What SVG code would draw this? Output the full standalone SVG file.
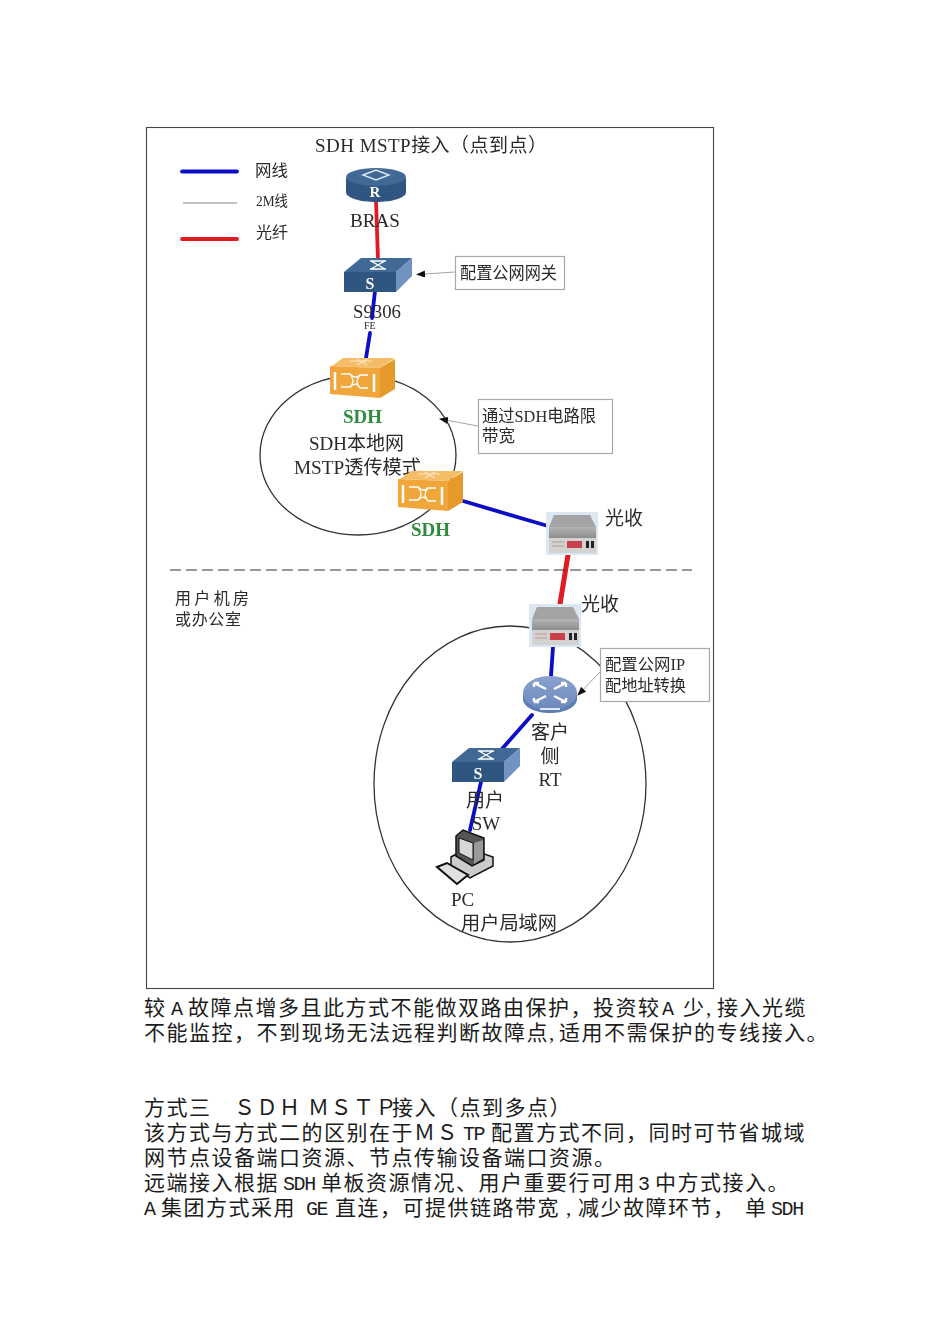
<svg xmlns="http://www.w3.org/2000/svg" width="950" height="1344" viewBox="0 0 950 1344">
<style>
text{font-family:"Liberation Serif","Noto Sans CJK SC",serif;fill:#2a2a2a}
.t{font-size:19px}
.b{font-size:21px;letter-spacing:1.5px;fill:#1c1c1c}
.m{font-family:"Liberation Mono",monospace;font-size:20px;letter-spacing:-1.400px}
.g{font-weight:bold;fill:#2e8b3a;font-size:19px}
.blue{stroke:#0f10c8;stroke-width:3.8;fill:none;stroke-linecap:round}
.red{stroke:#e01a22;stroke-width:3.8;fill:none;stroke-linecap:round}
.thin{stroke:#333;stroke-width:1.3;fill:none}
.fine{stroke:#666;stroke-width:.8;fill:none}
.box{fill:#fff;stroke:#a9a9a9;stroke-width:1.2}
.lead{stroke:#999;stroke-width:.9;fill:none}
.or{fill:#f0a63a}.orT{fill:#f5bd68}.orS{fill:#e59a2c}
.navy{fill:#2f5680}.navyT{fill:#3f6a95}.navyS{fill:#7093c2}
</style>
<defs>
<filter id="soft" x="-2%" y="-2%" width="104%" height="104%"><feGaussianBlur stdDeviation="0.45"/></filter>
<marker id="ah" markerWidth="9" markerHeight="7" refX="8" refY="3.5" orient="auto" markerUnits="userSpaceOnUse"><path d="M0 0L9 3.500L0 7z" fill="#111"/></marker>
<linearGradient id="rt" x1="0" y1="0" x2="0" y2="1"><stop offset="0" stop-color="#8ba2cf"/><stop offset="1" stop-color="#6c89bd"/></linearGradient>
<linearGradient id="bx" x1="0" y1="0" x2="0" y2="1"><stop offset="0" stop-color="#b5b5b5"/><stop offset="1" stop-color="#8d8d8d"/></linearGradient>
<g id="sdh">
<path class="orT" d="M2 8L13 0H65L50 10Z"/>
<path class="or" d="M0 8L50 10V40L0 36Z"/>
<path class="orS" d="M50 10L65 1V31L50 40Z"/>
<path d="M5 14V32M44 16V34" stroke="#fff" stroke-width="2.500" fill="none"/>
<path d="M11 16H20C24 20 27 20 30 17H38M11 29H20C24 25 27 25 30 30H38M20 16C24 22 24 24 20 29M30 17C26 22 26 25 30 30" stroke="#fff" stroke-width="1.300" fill="none"/>
<path d="M20 3H42M27 7L37 1M37 7L27 1" stroke="#fbe6c4" stroke-width="1.200"/>
</g>
<g id="mux">
<rect x="0" y="0" width="52" height="43" fill="#dbe7f2"/>
<path d="M3 15L8 3H44L50 15Z" fill="#a4a4a4"/>
<rect x="3" y="15" width="47" height="11" fill="url(#bx)"/>
<rect x="3" y="26" width="47" height="15" fill="#d2d2d2"/>
<rect x="21" y="29" width="15" height="7" fill="#c8404a"/>
<rect x="40" y="29" width="3" height="7" fill="#222"/><rect x="45" y="29" width="3" height="7" fill="#222"/>
<path d="M6 30H18M6 34H18" stroke="#b98" stroke-width="1"/>
</g>
<g id="sw">
<path class="navyT" d="M0 14L17 0H68L52 14Z"/>
<path class="navy" d="M0 14H52V34H0Z"/>
<path class="navyS" d="M52 14L68 0V18L52 34Z"/>
<path d="M26 3H42M26 11H42M27 3L41 11M41 3L27 11" stroke="#fff" stroke-width="1.400"/>
</g>
</defs>
<rect width="950" height="1344" fill="#fff"/>
<g filter="url(#soft)">
<rect x="146.500" y="127.500" width="567" height="861" fill="#fff" stroke="#444" stroke-width="1.100"/>
<g id="connectors">
<path class="blue" d="M182 171.500H237"/>
<path class="fine" d="M183 203H237"/>
<path class="red" d="M182 239H237"/>
<path class="red" d="M376 200L378 260"/>
<path class="blue" d="M375 291L372 318"/>
<path class="blue" d="M370 333L366 358"/>
<ellipse class="thin" cx="358" cy="455" rx="98" ry="80"/>
<ellipse class="thin" cx="510" cy="784" rx="136" ry="158"/>
<path class="blue" d="M463 501L548 526"/>
<path class="red" d="M568 555L560 604" style="stroke-width:5"/>
<path class="blue" d="M553 647L551 676"/>
<path class="blue" d="M532 715L501 750"/>
<path class="blue" d="M481 782L470 830"/>
<path d="M170 570H692" stroke="#333" stroke-width="1" stroke-dasharray="11 5" fill="none"/>
<path class="lead" d="M455 272L417 274.500" marker-end="url(#ah)"/>
<path class="lead" d="M478 426L440 419" marker-end="url(#ah)"/>
<path class="lead" d="M600 672L578 695" marker-end="url(#ah)"/>
</g>
<g id="bras">
<path class="navy" d="M346 178V192C346 198 360 202 376 202C392 202 406 198 406 192V178Z"/>
<ellipse class="navyT" cx="376" cy="177" rx="30" ry="9"/>
<path d="M363 175L376 170L389 175L376 180Z" fill="none" stroke="#dfe7f2" stroke-width="1.400"/>
<text x="375" y="197" text-anchor="middle" font-size="15" font-weight="bold" style="fill:#fff">R</text>
</g>
<g id="s9306"><use href="#sw" x="344" y="258"/>
<text x="370" y="289" text-anchor="middle" font-size="16" font-weight="bold" style="fill:#fff">S</text></g>
<g id="sdh1"><use href="#sdh" x="330" y="358"/></g>
<g id="mux1"><use href="#mux" x="546" y="512"/></g>
<g id="mux2"><use href="#mux" x="529" y="604"/></g>
<g id="crt">
<path d="M523 693V699C523 707 535 713 550 713C565 713 577 707 577 699V693Z" fill="#5f7db5"/>
<ellipse cx="550" cy="693" rx="27" ry="17" fill="url(#rt)"/>
<path d="M534 683L546 689M534 683V687M534 683H539M566 683L554 689M566 683V687M566 683H561M534 702L546 696M534 702V698M534 702H539M566 702L554 696M566 702V698M566 702H561" stroke="#fff" stroke-width="2.400" fill="none"/>
<path d="M540 709H560" stroke="#dfe7f2" stroke-width="2"/>
</g>
<g id="usw"><use href="#sw" x="452" y="748"/>
<text x="478" y="779" text-anchor="middle" font-size="16" font-weight="bold" style="fill:#fff">S</text></g>
<g id="pc">
<path d="M451 857L467 848L493 857V866L470 878L451 866Z" fill="#ccc" stroke="#111" stroke-width="1.500"/>
<path d="M456 836L463 830L484 838V860L472 866L456 856Z" fill="#555" stroke="#111" stroke-width="1.500"/>
<path d="M459 838L473 843V860L459 853Z" fill="#d8d8d8" stroke="#111"/>
<path d="M474 843L483 840V858L474 864Z" fill="#999"/>
<path d="M437 867L447 863L468 875L457 884Z" fill="#e0e0e0" stroke="#111" stroke-width="2"/>
</g>
<g id="note1"><rect class="box" x="455.500" y="256.500" width="109" height="33"/><text x="460" y="279" textLength="97" lengthAdjust="spacingAndGlyphs" style="font-size:17px">配置公网网关</text></g>
<g id="note2"><rect class="box" x="478.500" y="399.500" width="134" height="54"/><text x="482" y="422" style="font-size:17px" textLength="114" lengthAdjust="spacingAndGlyphs">通过SDH电路限</text><text x="482" y="442" style="font-size:17px" textLength="33" lengthAdjust="spacingAndGlyphs">带宽</text></g>
<g id="note3"><rect class="box" x="600.500" y="648.500" width="109" height="53"/><text x="605" y="670" style="font-size:16px" textLength="80" lengthAdjust="spacingAndGlyphs">配置公网IP</text><text x="605" y="691" style="font-size:16px" textLength="81" lengthAdjust="spacingAndGlyphs">配地址转换</text></g>
<text class="t" x="315" y="152" textLength="232" lengthAdjust="spacing">SDH MSTP接入（点到点）</text>
<text x="255" y="176" style="font-size:16px" textLength="33" lengthAdjust="spacingAndGlyphs">网线</text>
<text x="256" y="206" style="font-size:15px" textLength="32" lengthAdjust="spacingAndGlyphs">2M线</text>
<text x="256" y="238" style="font-size:16px" textLength="32" lengthAdjust="spacingAndGlyphs">光纤</text>
<text class="t" x="350" y="227" textLength="50" lengthAdjust="spacingAndGlyphs">BRAS</text>
<text class="t" x="353" y="318" textLength="48" lengthAdjust="spacingAndGlyphs">S9306</text>
<text x="364" y="329" font-size="10">FE</text>
<text class="g" x="343" y="423" textLength="39" lengthAdjust="spacingAndGlyphs">SDH</text>
<text class="t" x="309" y="450" textLength="95" lengthAdjust="spacingAndGlyphs">SDH本地网</text>
<text class="t" x="294" y="474" textLength="127" lengthAdjust="spacingAndGlyphs">MSTP透传模式</text>
<g id="sdh2"><use href="#sdh" x="398" y="471"/></g>
<text class="g" x="411" y="536" textLength="39" lengthAdjust="spacingAndGlyphs">SDH</text>
<text x="605" y="525" style="font-size:19px" textLength="38" lengthAdjust="spacingAndGlyphs">光收</text>
<text x="581" y="611" style="font-size:19px" textLength="38" lengthAdjust="spacingAndGlyphs">光收</text>
<text x="175" y="604" style="font-size:16px" textLength="74">用户机房</text>
<text x="175" y="625" style="font-size:16px" textLength="66">或办公室</text>
<text class="t" x="550" y="739" text-anchor="middle">客户</text>
<text class="t" x="550" y="763" text-anchor="middle">侧</text>
<text class="t" x="550" y="786" text-anchor="middle">RT</text>
<text class="t" x="485" y="807" text-anchor="middle">用户</text>
<text class="t" x="486" y="830" text-anchor="middle">SW</text>
<text class="t" x="451" y="906">PC</text>
<text class="t" x="461" y="930" textLength="96" lengthAdjust="spacingAndGlyphs">用户局域网</text>
</g>
<g id="body">
<text class="b" y="1015"><tspan x="144">较</tspan><tspan class="m" x="171">A</tspan><tspan x="188">故障点增多且此方式不能做双路由保护，投资较</tspan><tspan class="m" x="662">A</tspan><tspan x="683">少</tspan><tspan x="706">,</tspan><tspan x="717">接入光缆</tspan></text>
<text class="b" y="1040"><tspan x="144">不能监控，不到现场无法远程判断故障点</tspan><tspan x="549">,</tspan><tspan x="559">适用不需保护的专线接入。</tspan></text>
<text class="b" y="1115"><tspan x="144">方式三</tspan><tspan x="234">ＳＤＨ</tspan><tspan x="308">ＭＳＴＰ</tspan><tspan x="392">接入（点到多点）</tspan></text>
<text class="b" y="1140"><tspan x="144">该方式与方式二的区别在于</tspan><tspan x="414">ＭＳ</tspan><tspan class="m" x="463">TP</tspan><tspan x="491">配置方式不同，同时可节省城域</tspan></text>
<text class="b" y="1165" x="144">网节点设备端口资源、节点传输设备端口资源。</text>
<text class="b" y="1190"><tspan x="144">远端接入根据</tspan><tspan class="m" x="283">SDH</tspan><tspan x="321">单板资源情况、用户重要行可用</tspan><tspan class="m" x="638">3</tspan><tspan x="655">中方式接入。</tspan></text>
<text class="b" y="1215"><tspan class="m" x="144">A</tspan><tspan x="161">集团方式采用</tspan><tspan class="m" x="306">GE</tspan><tspan x="335">直连，可提供链路带宽</tspan><tspan x="566">,</tspan><tspan x="578">减少故障环节，</tspan><tspan x="745">单</tspan><tspan class="m" x="771">SDH</tspan></text>
</g>
</svg>
